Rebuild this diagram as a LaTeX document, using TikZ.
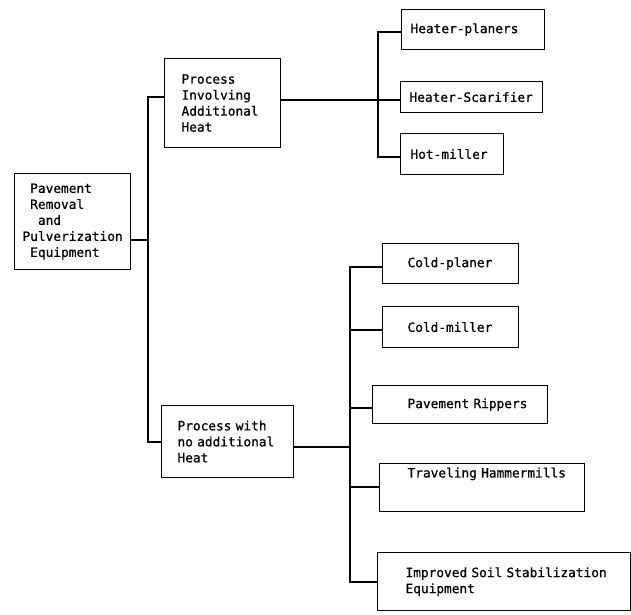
\documentclass[tikz,border=0pt]{standalone}
\usepackage{fontspec}
\setmonofont{DejaVu Sans Mono}[FakeBold=0.8]
\usetikzlibrary{positioning}

\tikzset{
  box/.style={draw, anchor=north west, align=left, inner ysep=2pt,
              font=\ttfamily\fontsize{12.8}{16}\selectfont},
}

\begin{document}
\begin{tikzpicture}[x=1pt, y=-1pt, line width=1.1pt]
  \useasboundingbox (0,0) rectangle (631,614);
  % left part
  \node (root) [box, text width=100pt, inner xsep=8pt, minimum height=96pt] at (14,173)
    {\hphantom{x}Pavement\\\hphantom{x}Removal\\\hphantom{xx}and\\Pulverization\\\hphantom{x}Equipment};
  \node (upper) [box, text width=82pt, inner xsep=17pt, minimum height=89pt] at (164,58)
    {Process\\Involving\\Additional\\Heat};
  \node (lower) [box, text width=100pt, inner xsep=16pt, minimum height=72pt] at (161,405)
    {Process~with\\no~additional\\Heat};
  % heated processes
  \node (hp) [box, text width=125pt, inner xsep=9pt, minimum height=40pt] at (401,9)
    {\mbox{Heater-planers}};
  \node (hs) [box, text width=124pt, inner xsep=9pt, minimum height=31pt] at (400,81)
    {\mbox{Heater-Scarifier}};
  \node (hm) [box, text width=83pt, inner xsep=10pt, minimum height=41pt] at (400,133)
    {\mbox{Hot-miller}};
  % cold processes
  \node (cp) [box, text width=86pt, inner xsep=25pt, minimum height=40pt] at (382,243)
    {\mbox{Cold-planer}};
  \node (cm) [box, text width=86pt, inner xsep=25pt, minimum height=41pt] at (382,306)
    {\mbox{Cold-miller}};
  \node (pr) [box, text width=105pt, inner xsep=35pt, minimum height=38pt] at (372,385)
    {\mbox{Pavement Rippers}};
  \node (tr) [box, text width=149pt, inner xsep=28pt, minimum height=48pt, text depth=30pt] at (379,463)
    {\mbox{Traveling Hammermills}};
  \node (im) [box, text width=197pt, inner xsep=28pt, minimum height=58pt] at (377,552)
    {\mbox{Improved Soil Stabilization}\\Equipment};

  % junctions
  \coordinate (rootJ) at (148,240);
  \coordinate (upJ) at (148,97);
  \coordinate (lowJ) at (148,442);
  \coordinate (heatJ) at (378,100);
  \coordinate (hpJ) at (378,32);
  \coordinate (hmJ) at (378,157);
  \coordinate (coldJ) at (350,447);
  \coordinate (cpJ) at (350,267);
  \coordinate (cmJ) at (350,330);
  \coordinate (prJ) at (350,408);
  \coordinate (trJ) at (350,487);
  \coordinate (imJ) at (350,582);

  \draw (root.east |- rootJ) -- (rootJ);
  \draw (upper.west |- upJ) -- (upJ) -- (lowJ) -- (lower.west |- lowJ);
  \draw (upper.east |- heatJ) -- (hs.west |- heatJ);
  \draw (hp.west |- hpJ) -- (hpJ) -- (hmJ) -- (hm.west |- hmJ);
  \draw (lower.east |- coldJ) -- (coldJ);
  \draw (cp.west |- cpJ) -- (cpJ) -- (imJ) -- (im.west |- imJ);
  \draw (cmJ) -- (cm.west |- cmJ);
  \draw (prJ) -- (pr.west |- prJ);
  \draw (trJ) -- (tr.west |- trJ);
\end{tikzpicture}
\end{document}
